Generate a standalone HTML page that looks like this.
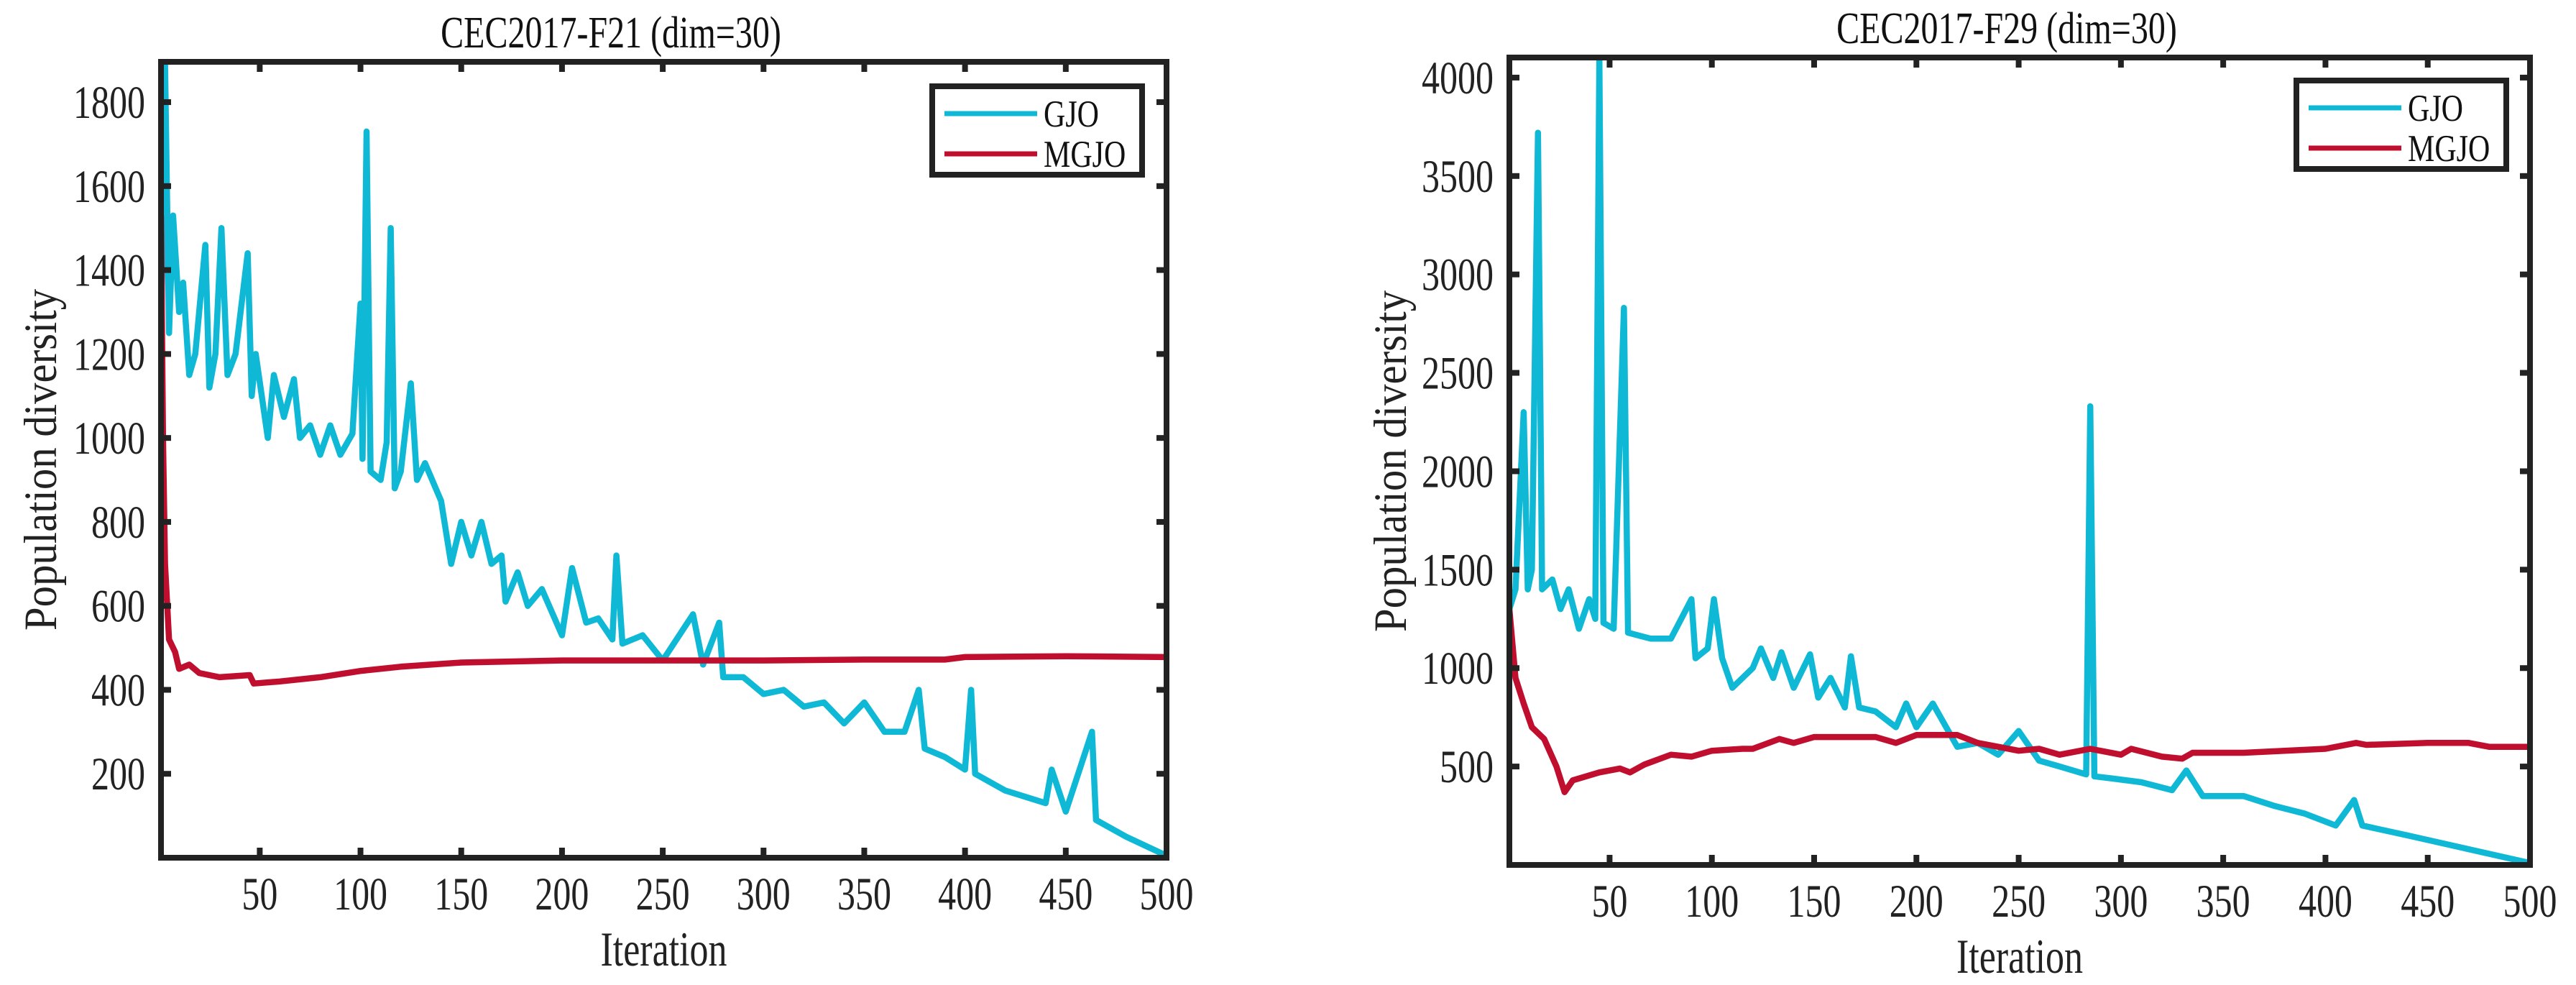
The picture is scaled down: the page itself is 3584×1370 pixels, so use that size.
<!DOCTYPE html>
<html><head><meta charset="utf-8"><style>
html,body{margin:0;padding:0;background:#fff;}
svg{display:block;font-family:"Liberation Serif",serif;}
</style></head><body>
<svg id="fig" width="3584" height="1370" viewBox="0 0 3584 1370"></svg>
<script>
// ---- Data: left chart (CEC2017-F21)
const f21GjoIter = [1,3,5,7,10,12,15,18,23,25,28,31,34,38,44,46,48,54,57,62,67,70,75,80,85,90,96,100,101,103,105,110,113,115,117,120,125,128,132,140,145,150,155,160,165,170,172,178,183,190,200,205,212,218,225,227,230,240,250,265,270,278,280,290,300,310,320,330,340,350,360,370,377,380,390,400,403,405,420,440,443,450,463,465,480,500];
const f21GjoVal = [1200,1896,1250,1530,1300,1370,1150,1200,1460,1120,1200,1500,1150,1200,1440,1100,1200,1000,1150,1050,1140,1000,1030,960,1030,960,1010,1320,950,1730,920,900,990,1500,880,920,1130,900,940,850,700,800,720,800,700,720,610,680,600,640,530,690,560,570,520,720,510,530,470,580,460,560,430,430,390,400,360,370,320,370,300,300,400,260,240,210,400,200,160,130,210,110,300,90,50,5];
const f21MgjoIter = [1,2,3,5,8,10,15,20,30,45,47,60,80,100,120,150,200,250,300,350,390,400,450,500];
const f21MgjoVal = [1530,1000,700,520,490,450,460,440,430,435,415,420,430,445,455,465,470,470,470,472,472,478,480,478];
const f21YTicks = [200,400,600,800,1000,1200,1400,1600,1800];
// ---- Data: right chart (CEC2017-F29)
const f29GjoIter = [1,4,8,10,12,15,17,22,26,30,35,40,43,45,47,52,57,59,70,80,90,92,98,101,105,110,120,124,130,134,140,148,152,158,165,168,172,180,190,195,200,208,220,230,240,250,260,270,283,285,287,295,310,325,332,340,360,375,390,405,414,418,440,470,500];
const f29GjoVal = [1300,1400,2300,1400,1500,3720,1400,1450,1300,1400,1200,1350,1250,4100,1230,1200,2830,1180,1150,1150,1350,1050,1100,1350,1050,900,1000,1100,950,1080,900,1070,850,950,800,1060,800,780,700,820,700,820,600,620,560,680,530,500,460,2330,450,440,420,380,480,350,350,300,260,200,330,200,150,80,10];
const f29MgjoIter = [1,4,8,12,18,24,28,32,45,55,60,67,80,90,100,115,120,133,140,150,180,190,200,220,230,240,250,260,270,285,300,305,320,330,335,360,380,400,415,420,450,470,480,500];
const f29MgjoVal = [1300,950,820,700,640,500,370,430,470,490,470,510,560,550,580,590,590,640,620,650,650,620,660,660,620,600,580,590,560,590,560,590,550,540,570,570,580,590,620,610,620,620,600,600];
const f29YTicks = [500,1000,1500,2000,2500,3000,3500,4000];
const xTicks = [50,100,150,200,250,300,350,400,450,500];

const NS = "http://www.w3.org/2000/svg";
const svg = document.getElementById('fig');
function mk(tag, attrs, parent){
  const e = document.createElementNS(NS, tag);
  for (const k in attrs) e.setAttribute(k, attrs[k]);
  (parent||svg).appendChild(e);
  return e;
}
function txt(parent, x, y, str, size, anchor, sy, fill){
  const t = mk('text', {x: 0, y: 0, 'font-size': size, 'text-anchor': anchor, fill: fill || '#222',
    transform: 'translate(' + x + ' ' + y + ') scale(1 ' + sy + ')'}, parent);
  t.textContent = str;
  return t;
}
function panel(cfg){
  const g = mk('g', {});
  
  
  const X = v => cfg.L + (v - 1) / (500 - 1) * (cfg.R - cfg.L);
  const Y = v => cfg.B - (v - 0) / (cfg.ymax - 0) * (cfg.B - cfg.T);
  const cid = 'clip' + cfg.name;
  const cp = mk('clipPath', {id: cid}, g);
  mk('rect', {x: cfg.L, y: cfg.T, width: cfg.R - cfg.L, height: cfg.B - cfg.T}, cp);
  function series(it, val, color, nm){
    let d = '';
    for (let i = 0; i < it.length; i++) d += (i ? 'L' : 'M') + X(it[i]).toFixed(1) + ' ' + Y(val[i]).toFixed(1);
    const p = mk('path', {d: d, fill: 'none', stroke: color, 'stroke-width': 8.5, 'stroke-linejoin': 'round', 'clip-path': 'url(#' + cid + ')'}, g);
    
    
  }
  series(cfg.gIt, cfg.gV, '#0fb9d6', 'gjo-line');
  series(cfg.mIt, cfg.mV, '#c00f2e', 'mgjo-line');
  for (const t of xTicks){
    const x = X(t);
    mk('line', {x1: x, x2: x, y1: cfg.B, y2: cfg.B - 14, stroke: '#222', 'stroke-width': 8}, g);
    mk('line', {x1: x, x2: x, y1: cfg.T, y2: cfg.T + 14, stroke: '#222', 'stroke-width': 8}, g);
    const tx = txt(g, x, cfg.B + 72, String(t), 50, 'middle', 1.3);
    
    
  }
  for (const t of cfg.yt){
    const y = Y(t);
    mk('line', {x1: cfg.L, x2: cfg.L + 14, y1: y, y2: y, stroke: '#222', 'stroke-width': 8}, g);
    mk('line', {x1: cfg.R, x2: cfg.R - 14, y1: y, y2: y, stroke: '#222', 'stroke-width': 8}, g);
    const tx = txt(g, cfg.L - 22, y + 22, String(t), 50, 'end', 1.3);
    
    
  }
  const box = mk('rect', {x: cfg.L, y: cfg.T, width: cfg.R - cfg.L, height: cfg.B - cfg.T, fill: 'none', stroke: '#222', 'stroke-width': 8}, g);
  
  
  const title = txt(g, cfg.tx, cfg.T - 20, cfg.title, 48, 'middle', 1.3, '#111');
  
  
  const xl = txt(g, (cfg.L + cfg.R) / 2, cfg.B + 150, 'Iteration', 52, 'middle', 1.3);
  
  
  const yx = cfg.ylx, yy = (cfg.T + cfg.B) / 2;
  const yl = mk('text', {x: 0, y: 0, 'font-size': 56, 'text-anchor': 'middle', fill: '#222', transform: 'translate(' + yx + ' ' + yy + ') rotate(-90) scale(1.05 1.15)'}, g);
  yl.textContent = 'Population diversity';
  
  
  const lg = mk('g', {}, g);
  
  
  const lx = cfg.lgx, ly = cfg.lgy;
  mk('rect', {x: lx, y: ly, width: 292, height: 123, fill: '#fff', stroke: '#222', 'stroke-width': 8}, lg);
  mk('line', {x1: lx + 17, x2: lx + 146, y1: ly + 38, y2: ly + 38, stroke: '#0fb9d6', 'stroke-width': 7}, lg);
  mk('line', {x1: lx + 17, x2: lx + 146, y1: ly + 94, y2: ly + 94, stroke: '#c00f2e', 'stroke-width': 7}, lg);
  const t1 = txt(lg, lx + 155, ly + 56, 'GJO', 42, 'start', 1.25, '#111');
  
  
  const t2 = txt(lg, lx + 155, ly + 112, 'MGJO', 42, 'start', 1.25, '#111');
  
  
}
panel({name: 'chart-f21', title: 'CEC2017-F21 (dim=30)', L: 224, R: 1623, T: 86, B: 1193, ymax: 1896, tx: 850,
  gIt: f21GjoIter, gV: f21GjoVal, mIt: f21MgjoIter, mV: f21MgjoVal, yt: f21YTicks, ylx: 78, lgx: 1297, lgy: 120});
panel({name: 'chart-f29', title: 'CEC2017-F29 (dim=30)', L: 2100, R: 3520, T: 80, B: 1203, ymax: 4102, tx: 2792,
  gIt: f29GjoIter, gV: f29GjoVal, mIt: f29MgjoIter, mV: f29MgjoVal, yt: f29YTicks, ylx: 1956, lgx: 3195, lgy: 112});
</script>
</body></html>
